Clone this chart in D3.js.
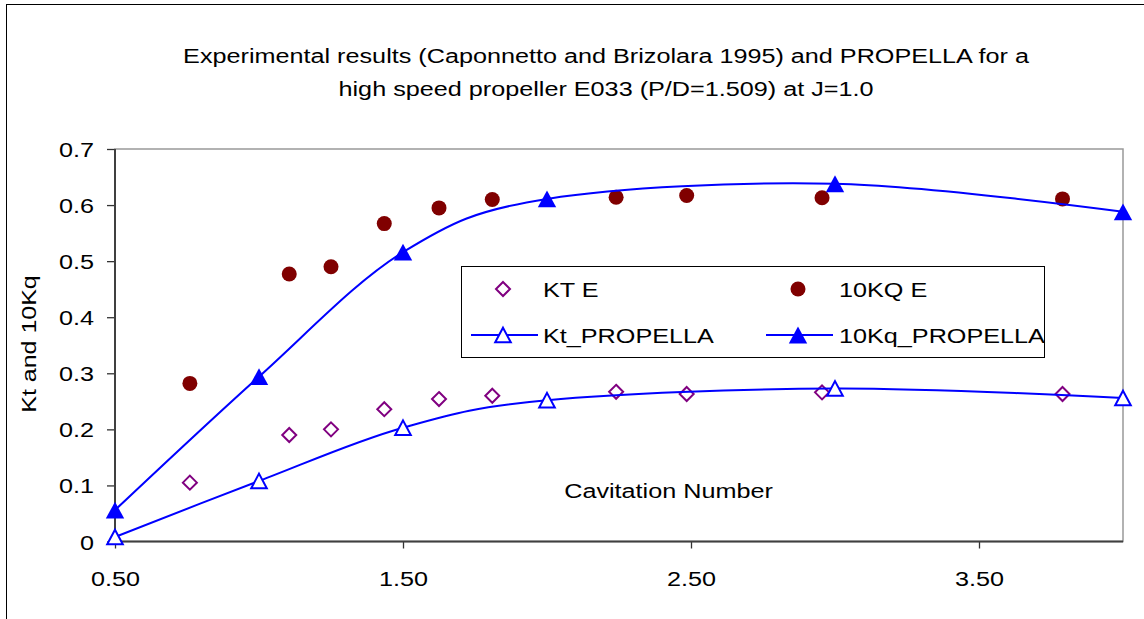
<!DOCTYPE html>
<html>
<head>
<meta charset="utf-8">
<script src="https://cdn.jsdelivr.net/npm/d3@7"></script>
<style>
  html, body { margin: 0; padding: 0; background: #fff; }
  svg { display: block; }
  text { font-family: "Liberation Sans", Arial, sans-serif; fill: #000; }
</style>
</head>
<body>
<svg id="chart" width="1144" height="619"></svg>
<script>
// ---------- data ----------
const titleLines = [
  "Experimental results (Caponnetto and Brizolara 1995) and PROPELLA for a",
  "high speed propeller E033 (P/D=1.509) at J=1.0"
];
const xAxisTitle = "Cavitation Number";
const yAxisTitle = "Kt and 10Kq";

const xTicks = [0.5, 1.5, 2.5, 3.5];
const yTicks = [0, 0.1, 0.2, 0.3, 0.4, 0.5, 0.6, 0.7];

// experimental points (Caponnetto and Brizolara 1995)
const sigmaExp = [0.76, 1.105, 1.25, 1.435, 1.625, 1.81, 2.24, 2.485, 2.955, 3.79];
const ktExp    = [0.105, 0.190, 0.200, 0.236, 0.254, 0.260, 0.267, 0.263, 0.266, 0.263];
const kqExp    = [0.282, 0.477, 0.490, 0.567, 0.595, 0.610, 0.614, 0.617, 0.613, 0.611];

// PROPELLA predictions
const sigmaProp = [0.5, 1.0, 1.5, 2.0, 3.0, 4.0];
const ktProp    = [0.008, 0.108, 0.203, 0.252, 0.273, 0.256];
const kqProp    = [0.056, 0.294, 0.516, 0.611, 0.638, 0.588];

const seriesNames = ["KT E", "10KQ E", "Kt_PROPELLA", "10Kq_PROPELLA"];

// ---------- layout ----------
const svg = d3.select("#chart");
const plot = { left: 115, right: 1123, top: 149, bottom: 541.5 };
const FS = 21, SX = 1.2;           // font size and horizontal stretch of text

const x = d3.scaleLinear().domain([0.5, 4.0]).range([plot.left, plot.right]);
const y = d3.scaleLinear().domain([0, 0.7]).range([plot.bottom, plot.top]);

// outer frame
svg.append("rect").attr("x", 6.5).attr("y", 4.5).attr("width", 1200).attr("height", 700)
  .attr("fill", "#fff").attr("stroke", "#000").attr("stroke-width", 1);

// title
svg.selectAll("text.title").data(titleLines).join("text")
  .attr("class", "title")
  .attr("text-anchor", "middle")
  .attr("font-size", FS)
  .attr("transform", (d, i) => `translate(606,${63 + i * 33}) scale(${SX},1)`)
  .text(d => d);

// plot frame
svg.append("rect").attr("x", plot.left).attr("y", plot.top)
  .attr("width", plot.right - plot.left).attr("height", plot.bottom - plot.top)
  .attr("fill", "#fff").attr("stroke", "#999").attr("stroke-width", 1.5);

// y axis
const gy = svg.append("g").attr("transform", `translate(${plot.left},0)`)
  .call(d3.axisLeft(y).tickValues(yTicks).tickSize(8)
    .tickFormat(d => d === 0 ? "0" : d3.format(".1f")(d)));
gy.select(".domain").remove();
gy.selectAll(".tick line").attr("stroke", "#333").attr("stroke-width", 1.3);
gy.selectAll(".tick text")
  .attr("x", null).attr("dy", "0.36em")
  .attr("font-size", FS).attr("font-family", "Liberation Sans, Arial, sans-serif")
  .attr("fill", "#000")
  .attr("transform", `translate(-21,0) scale(${SX},1)`);

// x axis
const gx = svg.append("g").attr("transform", `translate(0,${plot.bottom})`)
  .call(d3.axisBottom(x).tickValues(xTicks).tickSize(7).tickFormat(d3.format(".2f")));
gx.select(".domain").remove();
gx.selectAll(".tick line").attr("stroke", "#333").attr("stroke-width", 1.3);
gx.selectAll(".tick text")
  .attr("y", null).attr("dy", null)
  .attr("font-size", FS).attr("font-family", "Liberation Sans, Arial, sans-serif")
  .attr("fill", "#000")
  .attr("transform", `translate(0,44.5) scale(${SX},1)`);

// dark axis lines (left and bottom)
svg.append("line").attr("x1", plot.left).attr("x2", plot.left)
  .attr("y1", plot.top).attr("y2", plot.bottom)
  .attr("stroke", "#404040").attr("stroke-width", 2);
svg.append("line").attr("x1", plot.left).attr("x2", plot.right)
  .attr("y1", plot.bottom).attr("y2", plot.bottom)
  .attr("stroke", "#404040").attr("stroke-width", 2);

// axis titles
svg.append("text").attr("text-anchor", "middle").attr("font-size", FS)
  .attr("transform", `translate(668.5,498) scale(${SX},1)`)
  .text(xAxisTitle);
svg.append("text").attr("text-anchor", "middle").attr("font-size", FS)
  .attr("transform", `translate(36,344) rotate(-90) scale(1.19,1)`)
  .text(yAxisTitle);

// ---------- markers ----------
const blue = "#0000ff", purple = "#800080", maroon = "#800000";
const markers = {
  diamond: g => g.append("path").attr("d", "M0,-7 L7,0 L0,7 L-7,0 Z")
    .attr("fill", "#fff").attr("stroke", purple).attr("stroke-width", 2),
  circle: g => g.append("circle").attr("r", 7.5).attr("fill", maroon),
  openTri: g => g.append("path").attr("d", "M0,-7.3 L7.8,7.3 L-7.8,7.3 Z")
    .attr("fill", "#fff").attr("stroke", blue).attr("stroke-width", 2),
  fillTri: g => g.append("path").attr("d", "M0,-8.4 L9.2,8.4 L-9.2,8.4 Z")
    .attr("fill", blue)
};

const series = [
  { name: seriesNames[0], xs: sigmaExp, ys: ktExp, marker: "diamond", line: false },
  { name: seriesNames[1], xs: sigmaExp, ys: kqExp, marker: "circle", line: false },
  { name: seriesNames[2], xs: sigmaProp, ys: ktProp, marker: "openTri", line: true },
  { name: seriesNames[3], xs: sigmaProp, ys: kqProp, marker: "fillTri", line: true }
];

const lineGen = d3.line().x(d => x(d[0])).y(d => y(d[1])).curve(d3.curveCardinal.tension(0));

series.forEach(s => {
  const pts = s.xs.map((v, i) => [v, s.ys[i]]);
  if (s.line) {
    svg.append("path").datum(pts).attr("d", lineGen)
      .attr("fill", "none").attr("stroke", blue).attr("stroke-width", 2);
  }
  svg.append("g").selectAll("g").data(pts).join("g")
    .attr("transform", d => `translate(${x(d[0])},${y(d[1])})`)
    .each(function () { markers[s.marker](d3.select(this)); });
});

// ---------- legend ----------
const legBox = { x: 461.5, y: 266.5, w: 583, h: 91 };
svg.append("rect").attr("x", legBox.x).attr("y", legBox.y)
  .attr("width", legBox.w).attr("height", legBox.h)
  .attr("fill", "#fff").attr("stroke", "#000").attr("stroke-width", 1);

const colMarkerX = [503, 798], colTextX = [543, 839], rowY = [289, 335];
series.forEach((s, i) => {
  const col = i % 2, row = Math.floor(i / 2);
  const mx = colMarkerX[col], my = rowY[row];
  if (s.line) {
    svg.append("line").attr("x1", mx - 32).attr("x2", mx + 35)
      .attr("y1", my).attr("y2", my).attr("stroke", blue).attr("stroke-width", 2);
  }
  markers[s.marker](svg.append("g").attr("transform", `translate(${mx},${my})`));
  svg.append("text").attr("font-size", FS).attr("dy", "0.36em")
    .attr("transform", `translate(${colTextX[col]},${my}) scale(${SX},1)`)
    .text(s.name);
});
</script>
</body>
</html>
